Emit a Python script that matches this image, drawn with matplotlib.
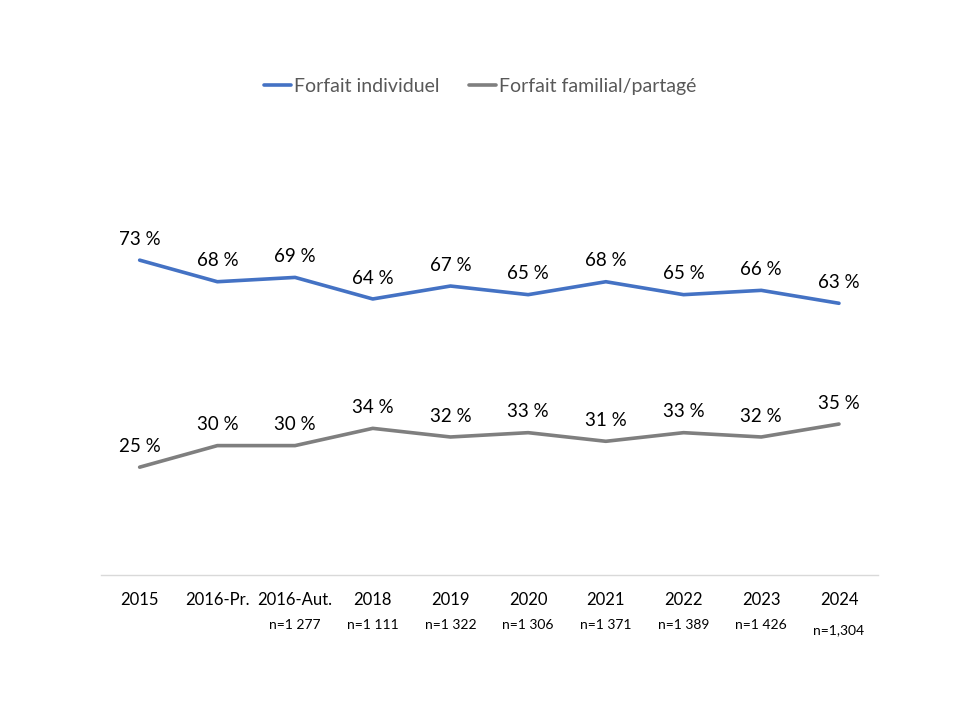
import matplotlib.pyplot as plt

years = ["2015", "2016-Pr.", "2016-Aut.", "2018", "2019", "2020",
         "2021", "2022", "2023", "2024"]
sample_sizes = ["", "", "n=1 277", "n=1 111", "n=1 322", "n=1 306",
                "n=1 371", "n=1 389", "n=1 426", "n=1,304"]
individuel = [73, 68, 69, 64, 67, 65, 68, 65, 66, 63]
familial = [25, 30, 30, 34, 32, 33, 31, 33, 32, 35]

plt.rcParams["font.family"] = ["Lato", "DejaVu Sans"]

fig = plt.figure(figsize=(9.6, 7.2), dpi=100)
ax = fig.add_axes([0.105, 0.2014, 0.8094, 0.599])

x = list(range(len(years)))
ax.plot(x, individuel, color="#4472C4", lw=2.6, solid_capstyle="round",
        label="Forfait individuel")
ax.plot(x, familial, color="#7F7F7F", lw=2.6, solid_capstyle="round",
        label="Forfait familial/partagé")

for i in x:
    ax.annotate(f"{individuel[i]} %", (i, individuel[i]), xytext=(0, 15),
                textcoords="offset points", ha="center", va="center",
                fontsize=13.5, color="#000000")
    ax.annotate(f"{familial[i]} %", (i, familial[i]), xytext=(0, 15),
                textcoords="offset points", ha="center", va="center",
                fontsize=13.5, color="#000000")

ax.set_xlim(-0.5, len(years) - 0.5)
ax.set_ylim(0, 100)
ax.set_yticks([])
ax.set_xticks(x)
ax.set_xticklabels(years, fontsize=12, color="#000000")
ax.tick_params(axis="x", length=0, pad=12)
for side in ["top", "right", "left"]:
    ax.spines[side].set_visible(False)
ax.spines["bottom"].set_color("#D9D9D9")
ax.spines["bottom"].set_linewidth(1)

# sample size under each year
for i, n in enumerate(sample_sizes):
    if not n:
        continue
    dy = -36 if i < len(years) - 1 else -40
    ax.annotate(n, (i, 0), xytext=(0, dy), textcoords="offset points",
                ha="center", va="center", fontsize=10, color="#000000",
                annotation_clip=False)

leg = fig.legend(loc="center", bbox_to_anchor=(0.5, 0.88), ncol=2,
                 frameon=False, fontsize=14, handlelength=1.4,
                 handletextpad=0.15, columnspacing=1.5)
for t in leg.get_texts():
    t.set_color("#595959")

fig.savefig("out.png", dpi=100)
